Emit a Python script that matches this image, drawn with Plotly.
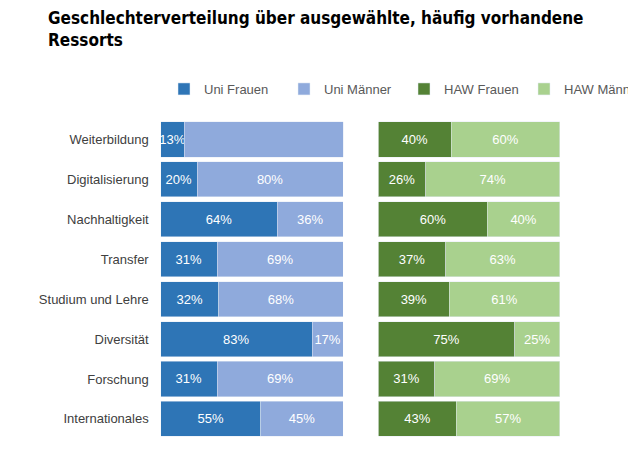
import plotly.graph_objects as go
from plotly.subplots import make_subplots

categories = ["Weiterbildung","Digitalisierung","Nachhaltigkeit","Transfer","Studium und Lehre","Diversität","Forschung","Internationales"]
uni_f = [13,20,64,31,32,83,31,55]
uni_m = [88,80,36,69,68,17,69,45]
haw_f = [40,26,60,37,39,75,31,43]
haw_m = [60,74,40,63,61,25,69,57]

fig = make_subplots(rows=1, cols=2)
def add(vals, name, color, col):
    fig.add_trace(go.Bar(y=categories, x=vals, name=name, orientation="h", marker_color=color,
                         text=[f"{v}%" for v in vals], textposition="inside", insidetextanchor="middle",
                         textangle=0, constraintext="none",
                         textfont=dict(color="white", size=13), cliponaxis=False), row=1, col=col)
add(uni_f, "Uni Frauen", "#2e75b6", 1)
add(uni_m, "Uni Männer", "#8faadc", 1)
add(haw_f, "HAW Frauen", "#548235", 2)
add(haw_m, "HAW Männer", "#a9d18e", 2)

fig.update_layout(
    width=636, height=455, barmode="stack", bargap=0.12,
    margin=dict(l=0, r=0, t=0, b=0), plot_bgcolor="white", paper_bgcolor="white",
    font=dict(family="Liberation Sans, Arial", size=13, color="#404040"),
    uniformtext=dict(minsize=10, mode="show"),
    title=dict(text="<b>Geschlechterverteilung über ausgewählte, häufig vorhandene<br>Ressorts</b>",
               x=0.063, xanchor="left", y=0.965, yanchor="top",
               font=dict(family="DejaVu Sans Condensed, Roboto, Liberation Sans", size=17, color="black")),
    legend=dict(orientation="h", x=0.265, xanchor="left", y=0.822, yanchor="middle",
                font=dict(size=13, color="#595959"), traceorder="normal",
                itemwidth=30, entrywidth=75, entrywidthmode="pixels"),
)
fig.update_xaxes(visible=False, range=[0, 100], fixedrange=True)
fig.update_layout(xaxis=dict(domain=[0.259, 0.569]), xaxis2=dict(domain=[0.629, 0.937]))
fig.update_yaxes(autorange="reversed", domain=[0.053, 0.755], showgrid=False, ticks="")
fig.update_yaxes(showticklabels=False, row=1, col=2)
fig.update_yaxes(ticksuffix="   ", tickfont=dict(size=13, color="#404040"), row=1, col=1)
fig.write_html("out.html")
